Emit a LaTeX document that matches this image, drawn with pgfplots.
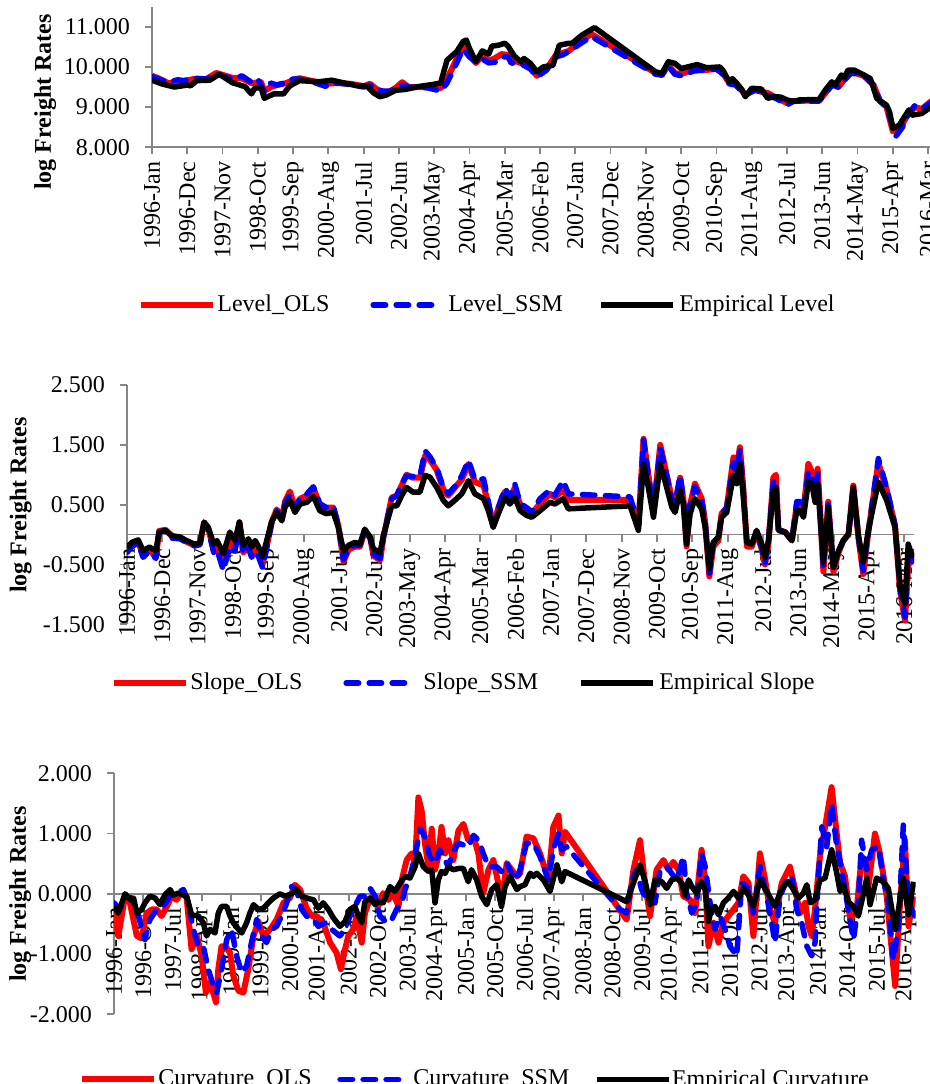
\documentclass[border=0pt]{standalone}
\usepackage{fontspec}
\setmainfont{Liberation Serif}
\usepackage{pgfplots}
\pgfplotsset{compat=1.18}
\definecolor{axgray}{RGB}{134,134,134}
\definecolor{myred}{RGB}{255,0,0}
\definecolor{myblue}{RGB}{0,0,255}
\pgfplotsset{
  every non boxed x axis/.append style={x axis line style={-}, xtick align=outside},
  every non boxed y axis/.append style={y axis line style={-}, ytick align=outside},
  base/.style={
    scale only axis, enlargelimits=false, set layers,
    axis line style={draw=axgray, line width=0.9pt},
    tick style={draw=axgray, line width=0.9pt},
    major tick length=3.5pt,
    hide obscured x ticks=false, hide obscured y ticks=false,
    xticklabel style={rotate=90, anchor=east, font=\fontsize{12}{14}\selectfont},
    yticklabel style={font=\fontsize{12}{14}\selectfont, xshift=-4pt},
    /pgf/number format/.cd, fixed, fixed zerofill, precision=3, assume math mode=true,
    /pgfplots/.cd,
    legend cell align=left,
    legend image code/.code={\draw[##1] (0pt,0pt) -- (36pt,0pt);},
    ylabel={log Freight Rates},
  },
  leg/.style={legend style={at={#1}, anchor=west, draw=none, fill=none, inner xsep=0pt, inner ysep=0pt, column sep=0pt, nodes={inner sep=0pt}, legend columns=3, font=\fontsize{12}{14}\selectfont}},
  ols/.style={myred, line width=3pt, line join=round},
  ssm/.style={myblue, line width=2.75pt, line join=round, line cap=round, dash pattern=on 6.25pt off 5.25pt,
     legend image code/.code={\draw[##1] (-2pt,0pt) -- (27.25pt,0pt);}},
  emp/.style={black, line width=2.75pt, line join=round},
}
\begin{document}
\begin{tikzpicture}
% ---------------- Panel 1: Level
\begin{axis}[base,
  at={(76pt,468.35pt)}, anchor=south west, width=392.85pt, height=70.3pt,
  axis lines=left,
  xmin=0, xmax=245, ymin=8, ymax=11.5,
  ytick={8,9,10,11},
  xtick={0,11,...,242},
  xticklabels={1996-Jan,1996-Dec,1997-Nov,1998-Oct,1999-Sep,2000-Aug,2001-Jul,2002-Jun,2003-May,2004-Apr,2005-Mar,2006-Feb,2007-Jan,2007-Dec,2008-Nov,2009-Oct,2010-Sep,2011-Aug,2012-Jul,2013-Jun,2014-May,2015-Apr,2016-Mar},
  every axis y label/.style={at={(axis description cs:-0.136,0.322)}, rotate=90, anchor=center, font=\bfseries\fontsize{12}{14}\selectfont},
  leg={(axis description cs:-0.0178,-1.1216)},
]
\addplot[ols] coordinates {(0,9.78)(2,9.72)(5,9.60)(8,9.62)(10,9.65)(13,9.70)(17,9.70)(20,9.85)(23,9.78)(25,9.73)(28,9.72)(31,9.60)(34,9.62)(35,9.40)(37,9.50)(39,9.55)(42,9.60)(44,9.68)(46,9.72)(50,9.65)(54,9.58)(58,9.60)(62,9.58)(66,9.52)(68,9.58)(70,9.45)(72,9.38)(74,9.38)(76,9.48)(78,9.62)(80,9.50)(86,9.50)(90,9.47)(92,9.70)(95,10.20)(97,10.52)(99,10.30)(101,10.10)(103,10.28)(105,10.15)(107,10.22)(109,10.32)(111,10.30)(113,10.15)(115,10.10)(118,9.98)(120,9.78)(123,9.95)(126,10.30)(128,10.35)(130,10.40)(133,10.60)(137,10.82)(157,9.85)(159,9.80)(161,10.05)(163,9.85)(165,9.82)(169,9.95)(172,9.92)(176,9.95)(178,9.85)(180,9.60)(182,9.62)(185,9.30)(188,9.45)(190,9.38)(192,9.35)(195,9.22)(198,9.10)(200,9.15)(208,9.17)(210,9.35)(212,9.58)(214,9.50)(216,9.70)(218,9.88)(222,9.78)(225,9.55)(227,9.15)(229,9.02)(231,8.40)(233,8.45)(236,8.85)(238,9.00)(240,8.95)(243,9.15)(245,9.20)};
\addlegendentry{\makebox[77pt][l]{\hspace{0.5pt}Level\_OLS}}
\addplot[ssm] coordinates {(0,9.76)(2,9.70)(5,9.62)(8,9.68)(10,9.66)(13,9.72)(17,9.70)(20,9.83)(23,9.75)(26,9.70)(28,9.78)(31,9.62)(33,9.70)(35,9.38)(37,9.60)(39,9.55)(42,9.62)(44,9.70)(46,9.70)(50,9.63)(54,9.52)(58,9.60)(62,9.56)(66,9.50)(68,9.55)(70,9.43)(72,9.40)(74,9.40)(76,9.46)(78,9.55)(80,9.50)(86,9.48)(90,9.40)(92,9.60)(95,10.10)(97,10.45)(99,10.25)(101,10.12)(103,10.20)(105,10.10)(107,10.12)(109,10.25)(111,10.25)(112,10.10)(115,10.08)(118,9.95)(120,9.75)(123,9.92)(126,10.25)(128,10.30)(130,10.38)(133,10.55)(137,10.76)(157,9.82)(159,9.80)(161,10.03)(163,9.82)(165,9.78)(169,9.90)(172,9.92)(176,9.95)(178,9.82)(180,9.58)(182,9.55)(185,9.30)(188,9.42)(190,9.38)(192,9.30)(195,9.20)(198,9.05)(200,9.15)(208,9.15)(210,9.33)(212,9.55)(214,9.50)(216,9.68)(218,9.85)(222,9.78)(225,9.55)(227,9.15)(229,9.00)(232,8.28)(234,8.50)(236,8.85)(238,9.05)(240,8.95)(243,9.12)(245,9.20)};
\addlegendentry{\makebox[82.1pt][l]{\hspace{7pt}Level\_SSM}}
\addplot[emp] coordinates {(0,9.67)(3,9.58)(7,9.50)(11,9.55)(12,9.53)(14,9.66)(18,9.67)(21,9.82)(25,9.61)(29,9.51)(31,9.33)(32,9.47)(34,9.49)(35,9.22)(38,9.33)(41,9.33)(43,9.53)(46,9.66)(52,9.63)(56,9.67)(60,9.60)(64,9.53)(67,9.53)(69,9.36)(71,9.26)(73,9.30)(76,9.42)(79,9.44)(83,9.51)(88,9.57)(90,9.60)(92,10.17)(95,10.38)(97,10.63)(98,10.67)(99,10.46)(101,10.13)(103,10.40)(105,10.32)(106,10.52)(108,10.54)(110,10.59)(111,10.52)(113,10.27)(115,10.13)(116,10.21)(118,10.09)(120,9.88)(122,10.00)(125,10.04)(127,10.54)(130,10.59)(131,10.59)(134,10.79)(138,10.98)(157,9.88)(159,9.84)(161,10.13)(163,10.09)(165,9.96)(169,10.04)(170,10.06)(173,9.98)(177,10.00)(178,9.92)(180,9.63)(181,9.71)(184,9.43)(185,9.26)(187,9.47)(190,9.45)(192,9.22)(194,9.26)(196,9.25)(198,9.18)(200,9.14)(202,9.18)(208,9.19)(210,9.43)(212,9.63)(213,9.55)(215,9.80)(216,9.74)(217,9.92)(219,9.92)(222,9.80)(224,9.71)(225,9.47)(226,9.22)(229,9.05)(230,8.88)(231,8.47)(233,8.55)(236,8.93)(237,8.80)(240,8.84)(243,9.01)(245,9.05)};
\addlegendentry{\hspace{1.6pt}Empirical Level}
\end{axis}
% ---------------- Panel 2: Slope
\begin{axis}[base,
  at={(63.5pt,229.85pt)}, anchor=south west, width=393.5pt, height=119.65pt,
  axis x line=middle, axis y line=left,
  xmin=0, xmax=245, ymin=-1.5, ymax=2.5,
  ytick={-1.5,-0.5,0.5,1.5,2.5},
  xtick={0,11,...,242},
  xticklabels={1996-Jan,1996-Dec,1997-Nov,1998-Oct,1999-Sep,2000-Aug,2001-Jul,2002-Jun,2003-May,2004-Apr,2005-Mar,2006-Feb,2007-Jan,2007-Dec,2008-Nov,2009-Oct,2010-Sep,2011-Aug,2012-Jul,2013-Jun,2014-May,2015-Apr,2016-Mar},
  every axis y label/.style={at={(axis description cs:-0.135,0.4985)}, rotate=90, anchor=center, font=\bfseries\fontsize{12}{14}\selectfont},
  leg={(axis description cs:-0.0203,-0.2453)},
]
\addplot[ols] coordinates {(0,-0.25)(1.5,-0.18)(3.5,-0.12)(5,-0.35)(7,-0.25)(9,-0.38)(10,0.06)(12,0.08)(14,-0.03)(16.5,-0.06)(18.5,-0.12)(21,-0.18)(22.7,-0.16)(24,0.20)(25.3,0.10)(27,-0.25)(28,-0.22)(30,-0.50)(32,-0.08)(33.6,-0.25)(35,0.20)(36.2,-0.30)(37.8,-0.20)(38.8,-0.35)(39.9,-0.25)(41,-0.35)(42.2,-0.50)(43.5,-0.20)(45,0.20)(46.6,0.42)(48.2,0.27)(49.2,0.55)(50.7,0.72)(52.3,0.45)(53.9,0.60)(56,0.65)(58,0.78)(60,0.50)(62,0.45)(64.2,0.45)(65.8,0.15)(67.4,-0.45)(69,-0.25)(71,-0.20)(72.5,-0.20)(74,0.05)(75.7,-0.05)(76.7,-0.35)(78.8,-0.43)(79.8,-0.05)(80.8,0.20)(82.4,0.62)(84,0.65)(85.5,0.82)(87,1.00)(89,0.95)(91.2,0.95)(92.8,1.32)(94.3,1.25)(96.4,1.08)(98.5,0.75)(100,0.65)(102,0.78)(104.2,0.92)(106.3,1.18)(108.3,0.88)(111,0.82)(112.5,0.50)(114,0.15)(115.6,0.45)(117.7,0.72)(119.2,0.60)(120.7,0.78)(122.4,0.50)(124.4,0.42)(126,0.35)(128.6,0.52)(131.7,0.68)(133.2,0.62)(135.8,0.75)(137.4,0.58)(156.6,0.58)(158.2,0.35)(159.2,0.15)(160.8,1.60)(162.3,1.00)(163.9,0.40)(166,1.50)(168,1.00)(169.6,0.60)(170.6,0.50)(172.2,0.95)(173.2,0.60)(174.2,-0.20)(175.3,0.50)(176.8,0.85)(178.9,0.60)(180,0.20)(181.3,-0.70)(182.5,-0.20)(184.1,-0.10)(185.1,0.35)(186.7,0.45)(188.8,1.29)(189.8,1.10)(190.8,1.46)(191.7,0.90)(193,-0.20)(194.5,-0.20)(196,0.05)(197.6,-0.25)(198.6,-0.50)(199.7,-0.15)(201.2,0.95)(202,1.00)(202.8,0.08)(204.9,0.04)(207,-0.10)(208.5,0.50)(209.5,0.55)(210.6,0.40)(212.1,1.18)(213.2,1.05)(214.2,0.70)(215,1.10)(215.7,0.45)(216.8,-0.62)(218.3,0.55)(219.9,-0.62)(221.5,-0.30)(223,-0.10)(224.6,0.00)(226.1,0.82)(227.7,-0.05)(229.2,-0.66)(230.8,0.05)(233.9,1.20)(236.5,0.75)(239.1,0.15)(240.7,-0.95)(242.2,-1.44)(243.2,-0.50)(244.3,-0.45)(245,-0.24)};
\addlegendentry{\makebox[77pt][l]{\hspace{0.5pt}Slope\_OLS}}
\addplot[ssm] coordinates {(0,-0.30)(1.5,-0.20)(3.5,-0.14)(5,-0.38)(7,-0.28)(9,-0.40)(10,0.05)(12,0.06)(14,-0.06)(16.5,-0.07)(18.5,-0.13)(21,-0.19)(22.7,-0.17)(24,0.18)(25.3,0.08)(27,-0.30)(28,-0.25)(30,-0.60)(32,-0.20)(33.6,-0.28)(35,0.20)(36.2,-0.32)(37.8,-0.22)(38.8,-0.38)(39.9,-0.28)(41,-0.38)(42.2,-0.55)(43.5,-0.22)(45,0.18)(46.6,0.40)(48.2,0.27)(49.2,0.52)(50.7,0.66)(52.3,0.45)(53.9,0.60)(56,0.68)(58,0.80)(60,0.52)(62,0.45)(64.2,0.48)(65.8,0.15)(67.4,-0.42)(69,-0.22)(71,-0.18)(72.5,-0.18)(74,0.05)(75.7,-0.06)(76.7,-0.33)(78.8,-0.40)(79.8,-0.05)(80.8,0.20)(82.4,0.60)(84,0.65)(85.5,0.85)(87,0.98)(89,0.97)(91.2,0.98)(92.8,1.40)(94.3,1.30)(96.4,1.12)(98.5,0.78)(100,0.68)(102,0.80)(104.2,0.98)(106.3,1.24)(108.3,0.92)(111,0.93)(112.5,0.55)(114,0.15)(115.6,0.45)(117.7,0.78)(119.2,0.62)(120.7,0.85)(122.4,0.52)(124.4,0.45)(126,0.38)(128.6,0.60)(131.7,0.75)(133.2,0.66)(135.8,0.90)(137.4,0.68)(156.6,0.63)(158.2,0.35)(159.2,0.15)(160.8,1.58)(162.3,0.98)(163.9,0.40)(166,1.45)(168,0.98)(169.6,0.60)(170.6,0.50)(172.2,0.99)(173.2,0.60)(174.2,-0.15)(175.3,0.50)(176.8,0.80)(178.9,0.58)(180,0.20)(181.3,-0.65)(182.5,-0.15)(184.1,-0.08)(185.1,0.35)(186.7,0.45)(188.8,1.20)(189.8,1.05)(190.8,1.40)(191.7,0.88)(193,-0.18)(194.5,-0.18)(196,0.06)(197.6,-0.22)(198.6,-0.48)(199.7,-0.12)(201.2,0.88)(202,0.92)(202.8,0.08)(204.9,0.04)(207,-0.10)(208.5,0.55)(209.5,0.55)(210.6,0.40)(212.1,1.05)(213.2,0.98)(214.2,0.68)(215,1.02)(215.7,0.45)(216.8,-0.55)(218.3,0.50)(219.9,-0.55)(221.5,-0.28)(223,-0.10)(224.6,0.00)(226.1,0.80)(227.7,-0.05)(229.2,-0.60)(230.8,0.05)(233.9,1.27)(236.5,0.78)(239.1,0.15)(240.7,-0.90)(242.2,-1.38)(243.2,-0.40)(244.3,-0.45)(245,-0.35)};
\addlegendentry{\makebox[85.6pt][l]{\hspace{8pt}Slope\_SSM}}
\addplot[emp] coordinates {(0,-0.21)(1.5,-0.13)(3.5,-0.09)(5,-0.27)(7,-0.21)(9,-0.27)(10,0.04)(12,0.07)(14,-0.02)(16.5,-0.04)(18.5,-0.10)(21,-0.16)(22.7,-0.14)(24,0.21)(25.3,0.12)(27,-0.16)(28,-0.10)(30,-0.32)(32,0.04)(33.6,-0.10)(35,0.21)(36.2,-0.18)(37.8,-0.07)(38.8,-0.21)(39.9,-0.10)(41,-0.21)(42.2,-0.37)(43.5,-0.10)(45,0.21)(46.6,0.37)(48.2,0.23)(49.2,0.46)(50.7,0.57)(52.3,0.37)(53.9,0.51)(56,0.54)(58,0.64)(60,0.40)(62,0.35)(64.2,0.37)(65.8,0.12)(67.4,-0.27)(69,-0.18)(71,-0.13)(72.5,-0.16)(74,0.09)(75.7,-0.04)(76.7,-0.24)(78.8,-0.30)(79.8,-0.02)(80.8,0.18)(82.4,0.48)(84,0.48)(85.5,0.65)(87,0.79)(89,0.71)(91.2,0.71)(92.8,0.99)(94.3,0.96)(96.4,0.79)(98.5,0.57)(100,0.48)(102,0.57)(104.2,0.68)(106.3,0.90)(108.3,0.68)(111,0.60)(112.5,0.40)(114,0.12)(115.6,0.35)(117.7,0.62)(119.2,0.51)(120.7,0.62)(122.4,0.40)(124.4,0.32)(126,0.29)(128.6,0.40)(131.7,0.54)(133.2,0.51)(135.8,0.60)(137.4,0.43)(156.6,0.48)(158.2,0.23)(159.2,0.07)(160.8,1.18)(162.3,0.79)(163.9,0.29)(166,1.18)(168,0.79)(169.6,0.46)(170.6,0.37)(172.2,0.74)(173.2,0.51)(174.2,-0.16)(175.3,0.35)(176.8,0.60)(178.9,0.43)(180,0.12)(181.3,-0.57)(182.5,-0.13)(184.1,-0.04)(185.1,0.29)(186.7,0.37)(188.8,0.99)(189.8,0.85)(190.8,1.18)(191.7,0.74)(193,-0.13)(194.5,-0.16)(196,0.07)(197.6,-0.16)(198.6,-0.38)(199.7,-0.10)(201.2,0.74)(202,0.79)(202.8,0.07)(204.9,0.04)(207,-0.10)(208.5,0.40)(209.5,0.40)(210.6,0.29)(212.1,0.88)(213.2,0.85)(214.2,0.54)(215,0.85)(215.7,0.35)(216.8,-0.46)(218.3,0.46)(219.9,-0.55)(221.5,-0.27)(223,-0.10)(224.6,0.01)(226.1,0.79)(227.7,-0.02)(229.2,-0.46)(230.8,0.07)(233.9,0.88)(236.5,0.57)(239.1,0.12)(240.7,-0.88)(242.2,-1.16)(243.2,-0.16)(244.3,-0.35)(245,-0.30)};
\addlegendentry{\hspace{1.6pt}Empirical Slope}
\end{axis}
% ---------------- Panel 3: Curvature
\begin{axis}[base,
  at={(57pt,34.85pt)}, anchor=south west, width=400.85pt, height=120.5pt,
  axis x line=middle, axis y line=left,
  xmin=0, xmax=246, ymin=-2, ymax=2,
  ytick={-2,-1,0,1,2},
  xtick={0,9,...,243},
  xticklabels={1996-Jan,1996-Oct,1997-Jul,1998-Apr,1999-Jan,1999-Oct,2000-Jul,2001-Apr,2002-Jan,2002-Oct,2003-Jul,2004-Apr,2005-Jan,2005-Oct,2006-Jul,2007-Apr,2008-Jan,2008-Oct,2009-Jul,2010-Apr,2011-Jan,2011-Oct,2012-Jul,2013-Apr,2014-Jan,2014-Oct,2015-Jul,2016-Apr},
  every axis y label/.style={at={(axis description cs:-0.117,0.499)}, rotate=90, anchor=center, font=\bfseries\fontsize{12}{14}\selectfont},
  leg={(axis description cs:-0.0437,-0.2705)},
]
\addplot[ols] coordinates {(0,-0.26)(1.3,-0.70)(3.4,-0.04)(4.9,-0.15)(7,-0.70)(8.5,-0.73)(10,-0.32)(11.6,-0.26)(13.1,-0.26)(14.6,-0.37)(16.2,-0.21)(17.7,-0.04)(19.2,-0.10)(20.8,0.04)(22.3,-0.07)(23.8,-0.92)(25.4,-0.70)(26.9,-1.03)(28.2,-1.64)(29.5,-1.47)(31.3,-1.80)(32,-1.25)(33,-0.87)(34.6,-0.90)(35.6,-0.98)(36.6,-1.36)(38.2,-1.61)(39.7,-1.64)(41.2,-1.25)(42.8,-0.70)(44.3,-0.46)(45.8,-0.70)(47.9,-0.59)(49.9,-0.43)(52,-0.15)(54,-0.07)(55.5,0.15)(57.1,0.07)(59.1,-0.24)(60.7,-0.37)(62.2,-0.37)(64.2,-0.48)(66.3,-0.81)(68.3,-0.98)(69.6,-1.25)(70.9,-0.92)(71.9,-0.70)(73.4,-0.59)(74.5,-0.37)(76,-0.81)(77,-0.32)(78.6,-0.07)(80.1,-0.15)(81.1,-0.21)(82.6,0.01)(84.2,-0.10)(85.7,0.01)(87.3,-0.21)(88.3,0.23)(89.8,0.56)(91.3,0.67)(92.4,0.51)(93.4,1.60)(94.4,1.38)(95.4,0.84)(96.5,0.45)(97.5,1.08)(98.5,0.40)(99.5,0.62)(100.5,1.11)(101.6,0.67)(102.6,0.89)(104.1,0.56)(105.7,1.05)(107.2,1.16)(108.7,0.89)(110.3,0.95)(111.8,0.67)(113.3,0.01)(114.9,0.40)(116.4,0.56)(117.9,0.18)(119.5,0.07)(120.5,0.51)(122,0.40)(123.6,0.29)(124.6,0.34)(126.6,0.95)(128.7,0.92)(130.7,0.67)(133.3,0.23)(134.8,1.11)(136.4,1.30)(137.4,0.67)(138.4,1.03)(157.3,-0.43)(159.4,0.40)(161.4,0.89)(163,0.15)(164.5,-0.37)(166.5,0.40)(168.6,0.56)(170.1,0.40)(171.6,0.53)(173.2,0.40)(174.7,-0.04)(176.8,-0.10)(178.3,-0.32)(180.3,0.73)(181.4,0.23)(182.4,-0.87)(183.9,-0.48)(185.5,-0.81)(187,-0.48)(188.5,-0.37)(190.1,-0.26)(191.6,-0.15)(193.1,0.29)(194.7,0.18)(196.2,-0.70)(198.2,0.67)(199.8,0.23)(201.3,-0.26)(202.8,-0.48)(204.9,0.18)(207.4,0.45)(209,0.07)(210.5,-0.32)(212.1,-0.15)(213.1,-0.54)(214.1,-0.70)(215.1,-0.26)(216.6,0.62)(217.7,0.95)(219.2,1.44)(220.2,1.77)(221.3,1.22)(222.8,0.51)(224.3,0.29)(225.9,-0.43)(227.9,-0.26)(229.4,0.62)(230.5,0.56)(231.5,0.12)(233.5,1.00)(235,0.67)(237.1,-0.04)(239.7,-1.53)(241.2,-0.15)(242.7,0.89)(243.8,-0.54)(245.3,-0.04)};
\addlegendentry{\makebox[90pt][l]{\hspace{0.5pt}Curvature\_OLS}}
\addplot[ssm] coordinates {(0,-0.15)(1.8,-0.26)(3.4,-0.04)(5.4,-0.07)(7.5,-0.37)(9.5,-0.76)(11,-0.43)(13.1,-0.26)(15.1,-0.21)(17.2,-0.04)(19.2,0.01)(21.3,0.07)(22.8,-0.13)(24.3,-0.59)(25.9,-0.87)(27.4,-0.87)(28.9,-1.25)(30.5,-1.53)(31.5,-1.64)(33,-1.25)(34.6,-0.76)(36.1,-0.59)(37.6,-1.03)(39.2,-1.31)(40.7,-1.20)(42.2,-0.81)(43.8,-0.43)(45.3,-0.70)(46.8,-0.81)(48.4,-0.59)(49.9,-0.54)(51.4,-0.37)(53,-0.15)(54.5,0.12)(56,0.07)(57.6,-0.26)(59.1,-0.37)(61.2,-0.43)(62.7,-0.54)(64.7,-0.48)(66.8,-0.59)(69.3,-0.70)(70.9,-0.59)(72.4,-0.37)(73.9,-0.21)(75.5,-0.04)(77,-0.04)(78.6,0.09)(80.1,-0.04)(81.6,-0.37)(83.7,-0.48)(85.2,-0.43)(86.7,-0.26)(88.3,-0.15)(89.3,0.07)(90.8,0.29)(92.4,0.62)(93.9,1.08)(95.4,0.95)(96.9,0.62)(98.5,0.51)(100,0.73)(101.6,0.56)(102.6,0.45)(104.1,0.70)(105.7,0.84)(107.2,0.81)(108.7,0.78)(110.3,0.97)(111.8,0.89)(113.3,0.67)(114.9,0.45)(117.4,0.45)(118.9,0.37)(120.5,0.51)(122,0.34)(123.6,0.23)(124.6,0.40)(126.6,0.84)(128.7,0.84)(130.7,0.62)(133.3,0.23)(134.8,0.73)(136.4,1.00)(137.4,0.73)(138.9,0.78)(155.3,-0.26)(157.3,-0.32)(158.9,0.23)(160.4,0.40)(161.9,0.07)(164,-0.15)(166,-0.15)(167.6,0.40)(169.6,0.45)(171.1,0.34)(172.7,0.23)(174.7,0.62)(175.7,0.01)(177.3,-0.32)(178.8,-0.15)(180.3,0.67)(181.4,0.45)(182.9,-0.15)(184.4,-0.59)(186,-0.37)(187.5,-0.59)(189,-0.87)(191.1,-1.03)(192.6,0.18)(194.2,0.12)(196.2,-0.32)(198.2,0.45)(200.3,-0.04)(201.8,-0.48)(202.8,-0.81)(204.4,-0.04)(206.4,0.23)(208,0.29)(209.5,-0.26)(211,-0.48)(212.6,-0.87)(214.1,-1.03)(215.1,-0.81)(216.1,0.23)(217.2,1.11)(218.7,0.78)(220.2,1.49)(221.8,0.78)(223.3,0.40)(225.3,-0.26)(226.9,-0.76)(228.4,-0.15)(229.4,0.89)(231,0.40)(232.5,0.73)(234.6,0.78)(236.1,0.23)(237.6,-0.15)(239.1,-1.09)(240.7,-0.59)(242.2,1.14)(243.8,-0.15)(245.8,-0.37)};
\addlegendentry{\makebox[96.6pt][l]{\hspace{6pt}Curvature\_SSM}}
\addplot[emp] coordinates {(0,-0.21)(1.3,-0.32)(3.4,0.00)(4.9,-0.10)(6,-0.07)(7,-0.32)(8.5,-0.26)(9.5,-0.15)(11,-0.04)(12.6,-0.07)(14.1,-0.18)(15.6,-0.02)(17.2,0.07)(18.2,-0.02)(19.7,0.01)(21.3,-0.02)(22.3,-0.04)(23.8,-0.35)(25.9,-0.37)(27.4,-0.48)(28.4,-0.70)(29.5,-0.59)(31,-0.65)(32,-0.32)(33,-0.21)(34.6,-0.21)(35.6,-0.37)(36.6,-0.48)(38.2,-0.59)(39.2,-0.65)(40.7,-0.48)(41.7,-0.32)(42.8,-0.18)(44.3,-0.26)(45.8,-0.24)(47.4,-0.15)(48.9,-0.07)(50.9,0.00)(52.5,-0.04)(54.5,0.00)(56,0.07)(57.6,-0.04)(59.1,-0.07)(61.2,-0.10)(62.7,-0.24)(64.2,-0.15)(65.8,-0.26)(67.3,-0.40)(69.3,-0.54)(70.9,-0.46)(72.4,-0.26)(73.9,-0.21)(75,-0.37)(76,-0.48)(77,-0.13)(78.6,-0.07)(80.1,-0.18)(81.1,-0.13)(82.6,-0.15)(84.7,0.12)(86.2,0.04)(87.8,0.18)(89.3,0.29)(90.8,0.26)(92.4,0.45)(93.4,0.67)(94.9,0.45)(96.5,0.37)(97.5,0.40)(98.5,-0.15)(99.5,0.23)(100.5,0.37)(101.6,0.34)(102.6,0.45)(104.1,0.40)(105.7,0.42)(107.2,0.42)(108.7,0.20)(109.7,0.40)(111.3,0.23)(112.8,-0.04)(114.4,-0.18)(115.9,0.07)(117.4,0.15)(118.9,-0.21)(120,0.12)(121.5,0.29)(123.6,0.07)(124.6,0.12)(126.1,0.15)(127.7,0.34)(128.7,0.29)(129.7,0.34)(131.8,0.23)(133.8,0.04)(135.9,0.48)(137.4,0.20)(138.4,0.37)(157.3,-0.13)(159.4,0.18)(161.4,0.48)(163,0.20)(164.5,-0.18)(166,0.23)(168.1,0.20)(169.6,0.09)(171.1,0.23)(172.7,0.26)(174.2,0.18)(175.2,-0.02)(176.3,0.23)(177.3,0.12)(178.8,0.01)(180.3,0.20)(181.4,0.07)(182.4,-0.46)(183.4,-0.24)(184.4,-0.21)(185.5,-0.35)(187,-0.15)(188.5,-0.07)(190.1,0.04)(191.6,-0.07)(193.1,0.09)(194.7,-0.02)(196.2,-0.21)(198.2,0.23)(200.3,0.04)(202.8,-0.21)(204.9,0.09)(206.9,0.20)(208.5,0.07)(210,-0.07)(211.5,0.01)(212.6,0.15)(213.6,-0.15)(215.1,-0.10)(216.6,0.23)(218.2,0.26)(220.2,0.73)(221.8,0.34)(222.8,0.04)(223.8,0.15)(225.3,-0.13)(226.9,-0.21)(228.4,-0.37)(230,0.01)(231,0.26)(232,-0.18)(234,0.26)(236.1,0.20)(237.6,0.09)(239.7,-0.59)(241.2,-0.10)(242.2,0.26)(243.8,-0.35)(245.3,0.20)};
\addlegendentry{Empirical Curvature}
\end{axis}
\pgfresetboundingbox
\useasboundingbox (0,0) rectangle (465pt,542pt);
\end{tikzpicture}
\end{document}
